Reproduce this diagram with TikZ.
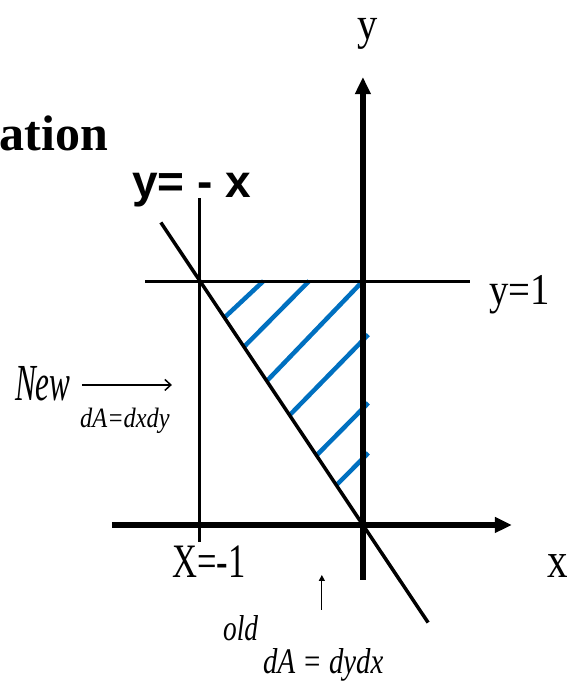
\documentclass[tikz,border=0pt]{standalone}
\usepackage{graphicx}
\usepackage{fontspec}
\setmainfont{Liberation Serif}
\newfontfamily\arialfont{Liberation Sans}
\usetikzlibrary{arrows.meta,calc}
\newcommand{\hsqz}[2]{\scalebox{#1}[1]{#2}}
\newcommand{\fsz}[1]{\fontsize{#1}{#1}\selectfont}
\definecolor{hatchblue}{RGB}{0,112,192}

\begin{document}
\begin{tikzpicture}[x=163pt,y=244pt,>={Triangle[length=17pt,width=15pt]},
  lbl/.style={inner sep=0pt},
  hatch/.style={line width=4.5pt,draw=hatchblue}]
\useasboundingbox (-2.227,-0.656) rectangle (1.337,2.152);
% axes and guide lines
\coordinate (xL) at (-1.54,0);
\coordinate (xR) at (0.914,0);
\coordinate (yB) at (0,-0.225);
\coordinate (yT) at (0,1.836);
\coordinate (hL) at (-1.337,1);
\coordinate (hR) at (0.656,1);
\coordinate (vT) at (-1,1.34);
\coordinate (vB) at (-1,-0.07);
\coordinate (dT) at (-1.24,1.24);
\coordinate (dB) at (0.4,-0.4);
% hatching of the region
\foreach \s/\ex/\ey in {0.85/-0.61/1,0.73/-0.33/1,0.59/0/1,0.45/0.033/0.78,0.285/0.033/0.5,0.163/0.033/0.295}{
  \draw[hatch] (-\s,\s)--(\ex,\ey);
}
\draw[line width=3pt] (hL)--(hR);
\draw[line width=3pt] (vT)--(vB);
\draw[line width=3.5pt] (dT)--(dB);
\draw[line width=5.5pt,->] (xL)--(xR);
\draw[line width=5.5pt,->] (yB)--(yT);
% labels
\node[lbl,anchor=base] (ylab) at (0.031,1.99) {\fsz{46}\hsqz{0.88}{y}};
\node[lbl,anchor=base west] (xlab) at (1.129,-0.217) {\fsz{50}\hsqz{0.82}{x}};
\node[lbl,anchor=base west] (one) at (0.773,0.902) {\fsz{44}\hsqz{0.88}{y=1}};
\node[lbl,anchor=base west] (mone) at (-1.172,-0.217) {\fsz{48}\hsqz{0.72}{X=-1}};
\node[lbl,anchor=base east] (title) at (-1.564,1.533) {\fsz{50}\bfseries ation};
\node[lbl,anchor=base west] (line) at (-1.417,1.344) {\fsz{46}\arialfont\bfseries y= - x};
\node[lbl,anchor=base west] (new) at (-2.135,0.512) {\fsz{52}\itshape\hsqz{0.6}{New}};
\node[lbl,anchor=base west] (newdA) at (-1.736,0.398) {\fsz{28}\itshape\hsqz{0.87}{dA=dxdy}};
\node[lbl,anchor=base west] (old) at (-0.859,-0.475) {\fsz{36}\itshape\hsqz{0.76}{old}};
\node[lbl,anchor=base west] (olddA) at (-0.613,-0.607) {\fsz{36}\itshape\hsqz{0.8}{dA = dydx}};
% pointer arrows
\coordinate (nA) at (-1.724,0.574);
\coordinate (nB) at (-1.172,0.574);
\coordinate (oA) at (-0.252,-0.348);
\coordinate (oB) at (-0.252,-0.205);
\draw[line width=1.5pt,-{Straight Barb[length=6pt,width=11pt]}] (nA)--(nB);
\draw[line width=1.2pt,-{Triangle[length=6pt,width=6pt]}] (oA)--(oB);
\end{tikzpicture}
\end{document}
